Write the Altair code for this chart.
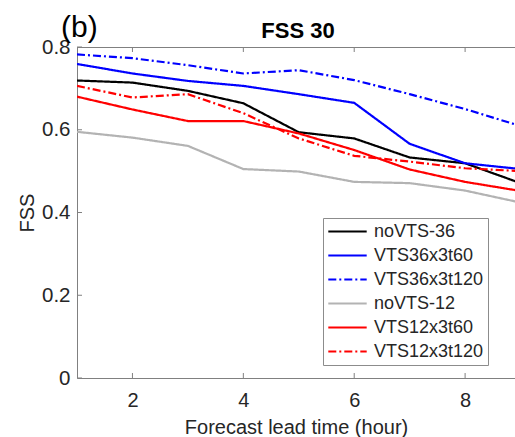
import altair as alt
import pandas as pd

lead_time = [1, 2, 3, 4, 5, 6, 7, 8, 9]
series_names = ["noVTS-36", "VTS36x3t60", "VTS36x3t120", "noVTS-12", "VTS12x3t60", "VTS12x3t120"]
noVTS_36 = [0.719, 0.714, 0.694, 0.664, 0.594, 0.579, 0.533, 0.519, 0.471]
VTS36x3t60 = [0.759, 0.736, 0.718, 0.706, 0.686, 0.665, 0.566, 0.519, 0.505]
VTS36x3t120 = [0.782, 0.773, 0.756, 0.736, 0.744, 0.720, 0.686, 0.650, 0.609]
noVTS_12 = [0.595, 0.581, 0.561, 0.505, 0.499, 0.474, 0.471, 0.453, 0.424]
VTS12x3t60 = [0.680, 0.649, 0.621, 0.621, 0.591, 0.551, 0.504, 0.474, 0.452]
VTS12x3t120 = [0.706, 0.678, 0.686, 0.640, 0.579, 0.537, 0.523, 0.507, 0.500]
series_values = [noVTS_36, VTS36x3t60, VTS36x3t120, noVTS_12, VTS12x3t60, VTS12x3t120]
series_colors = ["#000000", "#0000ff", "#0000ff", "#b3b3b3", "#ff0000", "#ff0000"]
series_dashes = [[1, 0], [1, 0], [8, 3, 2, 3], [1, 0], [1, 0], [8, 3, 2, 3]]
x_ticks = [2, 4, 6, 8]
y_ticks = [0, 0.2, 0.4, 0.6, 0.8]
chart_title = "FSS 30"
panel_tag = "(b)"

rows = []
for name, vals in zip(series_names, series_values):
    for t, v in zip(lead_time, vals):
        rows.append({"series": name, "t": t, "fss": v})
df = pd.DataFrame(rows)

W, H = 438, 331
FONT = "Liberation Sans"
AX = "#808080"
TXT = "#262626"

x_scale = alt.Scale(domain=[1, 8.9], nice=False, zero=False)
y_scale = alt.Scale(domain=[0, 0.8], nice=False)


def make_legend():
    return alt.Legend(title=None, orient="none", legendX=246, legendY=171,
                      symbolType="M-2.4,0H2.4", symbolSize=256, symbolStrokeWidth=2.2,
                      symbolOffset=11, labelOffset=17,
                      labelFontSize=18, labelFont=FONT, labelColor=TXT,
                      rowPadding=5, padding=4,
                      strokeColor="#8c8c8c", fillColor="white")


lines = alt.Chart(df).mark_line(strokeWidth=2.2, clip=True).encode(
    x=alt.X("t:Q", scale=x_scale,
            axis=alt.Axis(values=x_ticks, ticks=False, grid=False, domainColor=AX,
                          labelFontSize=20, labelColor=TXT, labelPadding=12, labelFont=FONT,
                          title="Forecast lead time (hour)", titleFontSize=20, titleColor=TXT,
                          titleFont=FONT, titleFontWeight="normal", titleBaseline="alphabetic",
                          titleY=55)),
    y=alt.Y("fss:Q", scale=y_scale,
            axis=alt.Axis(values=y_ticks, format="~g", ticks=False, grid=False, domainColor=AX,
                          labelFontSize=20.5, labelColor=TXT, labelPadding=7, labelFont=FONT,
                          title="FSS", titleFontSize=20, titleColor=TXT, titleFont=FONT,
                          titleFontWeight="normal", titleBaseline="alphabetic",
                          titleX=-44, titleY=H / 2, titleAlign="center")),
    color=alt.Color("series:N", sort=series_names,
                    scale=alt.Scale(domain=series_names, range=series_colors),
                    legend=make_legend()),
    strokeDash=alt.StrokeDash("series:N", sort=series_names,
                              scale=alt.Scale(domain=series_names, range=series_dashes),
                              legend=make_legend()),
)

top_border = alt.Chart(pd.DataFrame({"a": [0]})).mark_rule(color=AX, strokeWidth=1).encode(
    x=alt.value(0), x2=alt.value(W), y=alt.value(0.5)
)

xt = pd.DataFrame({"t": x_ticks})
xticks_bottom = alt.Chart(xt).mark_rule(color=AX, strokeWidth=1).encode(
    x=alt.X("t:Q", scale=x_scale), y=alt.value(H), y2=alt.value(H - 5)
)
xticks_top = alt.Chart(xt).mark_rule(color=AX, strokeWidth=1).encode(
    x=alt.X("t:Q", scale=x_scale), y=alt.value(0), y2=alt.value(5)
)
yt = pd.DataFrame({"fss": y_ticks})
yticks = alt.Chart(yt).mark_rule(color=AX, strokeWidth=1).encode(
    y=alt.Y("fss:Q", scale=y_scale), x=alt.value(0), x2=alt.value(5)
)

panel_label = alt.Chart(pd.DataFrame({"s": [panel_tag]})).mark_text(
    align="left", baseline="alphabetic", fontSize=30, font=FONT, color="#000000"
).encode(text="s:N", x=alt.value(-16), y=alt.value(-10))

title_text = alt.Chart(pd.DataFrame({"s": [chart_title]})).mark_text(
    align="center", baseline="alphabetic", fontSize=22, fontWeight="bold", font=FONT,
    color="#000000"
).encode(text="s:N", x=alt.value(221), y=alt.value(-9))

chart = alt.layer(lines, top_border, xticks_bottom, xticks_top, yticks, panel_label,
                  title_text).properties(
    width=W, height=H,
    padding={"left": 77, "top": 47, "right": 0, "bottom": 59},
    autosize=alt.AutoSizeParams(type="none"),
).configure_view(stroke=None).configure(font=FONT, background="white")

chart.save("out.html", embed_options={"renderer": "svg", "actions": False})
